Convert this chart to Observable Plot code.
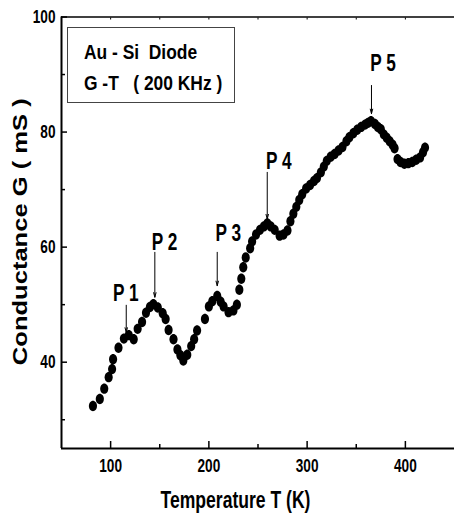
<!DOCTYPE html>
<html>
<head>
<meta charset="utf-8">
<script src="https://cdn.jsdelivr.net/npm/d3@7"></script>
<script src="https://cdn.jsdelivr.net/npm/@observablehq/plot@0.6"></script>
<style>
  body { margin: 0; background: #fff; }
  #wrap { position: relative; width: 454px; height: 515px; overflow: hidden; }
  #wrap svg { position: absolute; left: 0; top: 0; }
  .legend { position: absolute; left: 67px; top: 27px; width: 168px; height: 76px; border: 1px solid #444; box-sizing: border-box; background: #fff; }
  .legend div { position: absolute; left: 16px; white-space: pre; font-family: "Liberation Sans", Arial, sans-serif; font-weight: bold; font-size: 20px; line-height: 20px; color: #000; transform: scaleX(0.87); transform-origin: 0 0; }
</style>
</head>
<body>
<div id="wrap">
  <div class="legend">
    <div id="leg1" style="top:14.4px">Au - Si  Diode</div>
    <div id="leg2" style="top:45.1px">G -T   ( 200 KHz )</div>
  </div>
</div>
<script>
// Measured data: Temperature (K) vs Conductance G (mS)
const temperature = [82, 89, 93.5, 98, 101.5, 102.5, 108, 113.5, 118.5, 123.5, 127.5, 132, 136, 140, 143.5, 148, 153, 156, 159, 164, 168, 171, 174, 178, 182, 185, 188, 196, 200, 203.5, 208.5, 212, 215, 220, 225, 228.5, 231, 233, 235, 237.5, 242, 244, 248, 252, 256, 259.5, 263, 267, 272, 276, 280, 283, 286, 289, 292, 295, 299, 303, 307, 310, 314, 317, 320, 324, 328, 332, 336, 340, 343, 347, 351, 355, 359, 362, 365, 369, 372, 375, 378, 381, 384, 387, 389, 392, 395, 399, 403, 407, 411, 415, 418, 420];
const conductance = [32.4, 33.6, 35.4, 37.4, 38.8, 40.5, 42.5, 44.1, 44.7, 44.0, 45.8, 47.0, 48.6, 49.6, 50.1, 49.5, 48.5, 47.5, 45.6, 44.0, 42.2, 41.2, 40.3, 41.3, 42.8, 44.0, 45.5, 47.5, 49.7, 50.6, 51.5, 50.5, 49.7, 48.7, 49.0, 50.0, 52.6, 54.5, 56.5, 58.2, 59.8, 61.0, 62.2, 63.0, 63.6, 64.1, 63.6, 63.0, 62.0, 62.2, 62.9, 64.5, 65.8, 67.0, 68.2, 69.2, 70.2, 70.8, 71.5, 72.0, 73.0, 74.0, 75.0, 75.7, 76.2, 76.8, 77.4, 78.4, 79.1, 79.8, 80.4, 80.9, 81.3, 81.6, 81.9, 81.4, 80.9, 80.5, 79.6, 79.0, 78.4, 77.8, 77.2, 75.3, 74.8, 74.5, 74.6, 74.8, 75.2, 75.6, 76.5, 77.3];

// Peak annotations
const peakLabels = ["P 1", "P 2", "P 3", "P 4", "P 5"];
const peakLabelT = [115.4, 154.8, 219.8, 271.2, 377.2];
const peakLabelG = [51.9, 60.7, 62.3, 74.9, 91.9];
const peakArrowT = [115.9, 145.0, 208.5, 259.4, 365.5];
const peakArrowTop = [49.9, 59.1, 59.1, 73.0, 88.1];
const peakArrowBottom = [45.2, 51.3, 53.3, 64.9, 83.2];

// Axes
const xDomain = [50, 450];
const yDomain = [25, 100];
const xTicks = [100, 200, 300, 400];
const xMinorTicks = [150, 250, 350];
const yTicks = [40, 60, 80, 100];
const yMinorTicks = [30, 50, 70, 90];
const xTitle = "Temperature T (K)";
const yTitle = "Conductance G ( mS )";

const points = temperature.map((t, i) => ({t, g: conductance[i]}));
const peaks = peakLabels.map((label, i) => ({
  label, lx: peakLabelT[i], ly: peakLabelG[i],
  ax: peakArrowT[i], a1: peakArrowTop[i], a2: peakArrowBottom[i]
}));

const font = '"Liberation Sans", Arial, sans-serif';

// Slightly tall ellipse symbol, as in the reference scan
const ellipse = {
  draw(context, size) {
    const r = Math.sqrt(size / Math.PI);
    const rx = r * 0.78, ry = r, k = 0.5523;
    context.moveTo(rx, 0);
    context.bezierCurveTo(rx, k * ry, k * rx, ry, 0, ry);
    context.bezierCurveTo(-k * rx, ry, -rx, k * ry, -rx, 0);
    context.bezierCurveTo(-rx, -k * ry, -k * rx, -ry, 0, -ry);
    context.bezierCurveTo(k * rx, -ry, rx, -k * ry, rx, 0);
    context.closePath();
  }
};

const chart = Plot.plot({
  width: 454,
  height: 515,
  marginLeft: 61,
  marginRight: 0,
  marginTop: 16.5,
  marginBottom: 67,
  style: {fontFamily: font, fontWeight: "bold", fontSize: "17.7px", color: "#000", background: "#fff"},
  x: {domain: xDomain},
  y: {domain: yDomain},
  marks: [
    // inward ticks
    Plot.axisX(xTicks, {anchor: "bottom", tickSize: -7, strokeWidth: 1.5, tickFormat: () => "", label: null}),
    Plot.axisX(xMinorTicks, {anchor: "bottom", tickSize: -4, strokeWidth: 1.5, tickFormat: () => "", label: null}),
    Plot.axisX(xTicks.concat(xMinorTicks), {anchor: "top", tickSize: -2, strokeWidth: 1, tickFormat: () => "", label: null}),
    Plot.axisY(yTicks, {anchor: "left", tickSize: -6, strokeWidth: 1.5, tickFormat: () => "", label: null}),
    Plot.axisY(yMinorTicks, {anchor: "left", tickSize: -4, strokeWidth: 1.5, tickFormat: () => "", label: null}),
    // tick labels
    Plot.axisX(xTicks, {anchor: "bottom", tickSize: 0, tickPadding: 11, fontSize: 17.7, label: null}),
    Plot.axisY(yTicks, {anchor: "left", tickSize: 0, tickPadding: 6, fontSize: 17.7, label: null}),
    // axis lines
    Plot.ruleY([yDomain[0]], {stroke: "#000", strokeWidth: 2}),
    Plot.ruleX([xDomain[0]], {stroke: "#000", strokeWidth: 2}),
    Plot.ruleY([yDomain[1]], {stroke: "#000", strokeWidth: 1.5}),
    // data
    Plot.dot(points, {x: "t", y: "g", r: 5.2, symbol: ellipse, fill: "#000", stroke: "none"}),
    // annotations
    Plot.arrow(peaks, {x1: "ax", x2: "ax", y1: "a1", y2: "a2", stroke: "#000", strokeWidth: 1, headLength: 7, headAngle: 30}),
    Plot.text(peaks, {x: "lx", y: "ly", text: "label", fontSize: 23, fontFamily: font, fontWeight: "bold", fill: "#000"}),
    // axis titles
    Plot.text([xTitle], {text: d => d, frameAnchor: "bottom", textAnchor: "middle", lineAnchor: "middle", dx: -22.5, dy: 52, fontSize: 24.5, fontFamily: font, fontWeight: "bold", fill: "#000"}),
    Plot.text([yTitle], {text: d => d, frameAnchor: "left", textAnchor: "middle", lineAnchor: "middle", dx: -41, dy: -1, rotate: -90, fontSize: 21, fontFamily: font, fontWeight: "bold", fill: "#000"})
  ]
});

document.getElementById("wrap").prepend(chart);

// Condense glyphs horizontally (narrow bold look of the scan); widen the y title
function scaleText(el, s) {
  const t = el.getAttribute("transform") || "";
  const x = +el.getAttribute("x") || 0, y = +el.getAttribute("y") || 0;
  el.setAttribute("transform", `${t} translate(${x},${y}) scale(${s},1) translate(${-x},${-y})`);
}
d3.select(chart).selectAll("text").each(function() {
  const s = this.textContent;
  if (!s) return;
  if (s === yTitle) scaleText(this, 267 / this.getComputedTextLength());
  else if (s === xTitle) scaleText(this, 150 / this.getComputedTextLength());
  else if (peakLabels.includes(s)) scaleText(this, 0.75);
  else scaleText(this, 0.77);
});
</script>
</body>
</html>
